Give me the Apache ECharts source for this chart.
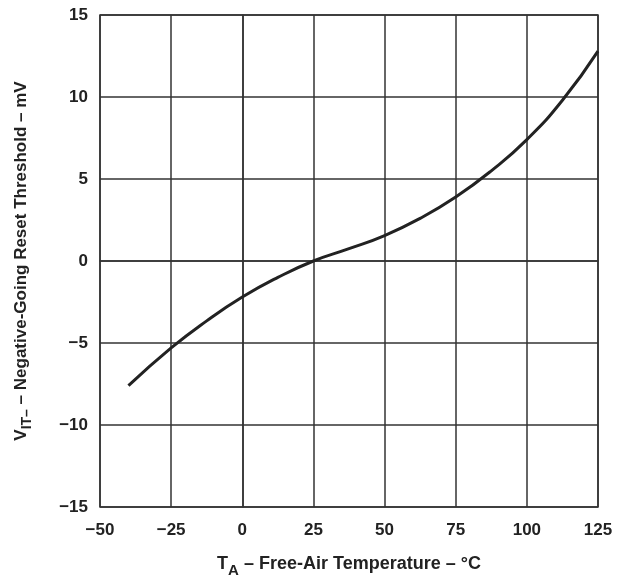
<!DOCTYPE html>
<html lang="en">
  <head>
    <meta charset="UTF-8" />
    <script src="https://cdn.jsdelivr.net/npm/echarts@6/dist/echarts.min.js"></script>
    <title>VIT- vs temperature</title>
    <style>
      html, body { margin: 0; padding: 0; background: #fff; }
      #app { width: 618px; height: 580px; }
    </style>
  </head>
  <body>
    <div id="app"></div>
    <script>
      // temperature (°C) and threshold shift (mV)
      const temps = [-40, -25, -12.5, 0, 12.5, 25, 37.5, 50, 62.5, 75, 87.5, 100, 112.5, 125];
      const vitShift = [-7.6, -5.3, -3.65, -2.2, -1.0, 0, 0.75, 1.55, 2.6, 3.9, 5.5, 7.4, 9.8, 12.8];

      const ink = "#222";
      const gridColor = "#333";
      const font = "Liberation Sans, Arial, sans-serif";
      const minus = (v) => String(v).replace("-", "\u2212");

      const chart = echarts.init(document.getElementById("app"));
      chart.setOption({
        animation: false,
        grid: {
          left: 100,
          right: 20,
          top: 15,
          bottom: 73,
          outerBoundsMode: "none",
          containLabel: false,
          show: true,
          borderColor: gridColor,
          borderWidth: 1.5,
        },
        xAxis: {
          type: "value",
          min: -50,
          max: 125,
          interval: 25,
          axisLine: { lineStyle: { color: gridColor, width: 1.5 } },
          axisTick: { show: false },
          splitLine: { lineStyle: { color: gridColor, width: 1.5 } },
          axisLabel: {
            color: ink,
            fontFamily: font,
            fontSize: 17,
            fontWeight: "bold",
            margin: 15,
            formatter: minus,
          },
          name: "{t|T}{sub|A}{t| \u2013 Free-Air Temperature \u2013 \u00b0C}",
          nameLocation: "middle",
          nameGap: 44,
          nameTextStyle: {
            rich: {
              t: { fontFamily: font, fontSize: 18, fontWeight: "bold", color: ink },
              sub: { fontFamily: font, fontSize: 15, fontWeight: "bold", color: ink, padding: [12, 0, 0, 0] },
            },
          },
        },
        yAxis: {
          type: "value",
          min: -15,
          max: 15,
          interval: 5,
          axisLine: { lineStyle: { color: gridColor, width: 1.5 } },
          axisTick: { show: false },
          splitLine: { lineStyle: { color: gridColor, width: 1.5 } },
          axisLabel: {
            color: ink,
            fontFamily: font,
            fontSize: 17,
            fontWeight: "bold",
            margin: 12,
            formatter: minus,
          },
          name: "{t|V}{sub|IT\u2013}{t| \u2013 Negative-Going Reset Threshold \u2013 mV}",
          nameLocation: "middle",
          nameRotate: 90,
          nameGap: 66,
          nameTextStyle: {
            rich: {
              t: { fontFamily: font, fontSize: 17, fontWeight: "bold", color: ink },
              sub: { fontFamily: font, fontSize: 14, fontWeight: "bold", color: ink, padding: [12, 0, 0, 0] },
            },
          },
        },
        series: [
          {
            type: "line",
            data: temps.map((t, i) => [t, vitShift[i]]),
            smooth: 0.5,
            symbol: "none",
            lineStyle: { color: ink, width: 3 },
          },
        ],
      });
    </script>
  </body>
</html>
